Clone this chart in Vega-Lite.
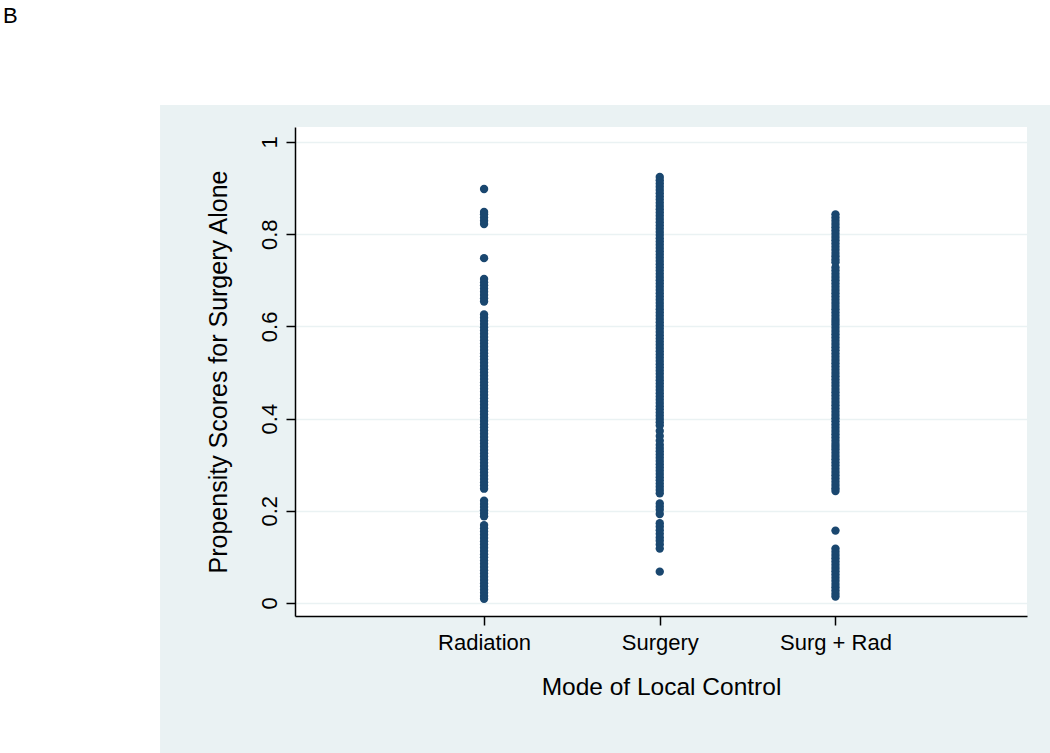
{
  "$schema": "https://vega.github.io/schema/vega-lite/v6.json",
  "width": 732,
  "height": 489,
  "autosize": {"type": "none"},
  "padding": {"left": 295, "top": 127, "right": 23, "bottom": 137},
  "background": "#EAF2F3",
  "view": {"fill": "white", "stroke": null},
  "config": {"font": "Liberation Sans"},
  "data": {"values": [
    {"mode":1,"score":0.898},
    {"mode":1,"score":0.848},{"mode":1,"score":0.843},{"mode":1,"score":0.836},{"mode":1,"score":0.829},{"mode":1,"score":0.822},
    {"mode":1,"score":0.748},
    {"mode":1,"score":0.703},{"mode":1,"score":0.696},{"mode":1,"score":0.689},{"mode":1,"score":0.682},{"mode":1,"score":0.675},{"mode":1,"score":0.668},{"mode":1,"score":0.661},{"mode":1,"score":0.654},
    {"mode":1,"score":0.626},{"mode":1,"score":0.619},{"mode":1,"score":0.612},{"mode":1,"score":0.605},{"mode":1,"score":0.598},{"mode":1,"score":0.591},{"mode":1,"score":0.584},{"mode":1,"score":0.577},{"mode":1,"score":0.570},{"mode":1,"score":0.563},{"mode":1,"score":0.556},{"mode":1,"score":0.549},{"mode":1,"score":0.542},{"mode":1,"score":0.535},{"mode":1,"score":0.528},{"mode":1,"score":0.521},{"mode":1,"score":0.514},{"mode":1,"score":0.507},{"mode":1,"score":0.500},{"mode":1,"score":0.493},{"mode":1,"score":0.486},{"mode":1,"score":0.479},{"mode":1,"score":0.472},{"mode":1,"score":0.465},{"mode":1,"score":0.458},{"mode":1,"score":0.451},{"mode":1,"score":0.444},{"mode":1,"score":0.437},{"mode":1,"score":0.430},{"mode":1,"score":0.423},{"mode":1,"score":0.416},{"mode":1,"score":0.409},{"mode":1,"score":0.402},{"mode":1,"score":0.395},{"mode":1,"score":0.388},{"mode":1,"score":0.381},{"mode":1,"score":0.374},{"mode":1,"score":0.367},{"mode":1,"score":0.360},{"mode":1,"score":0.353},{"mode":1,"score":0.346},{"mode":1,"score":0.339},{"mode":1,"score":0.332},{"mode":1,"score":0.325},{"mode":1,"score":0.318},{"mode":1,"score":0.311},{"mode":1,"score":0.304},{"mode":1,"score":0.297},{"mode":1,"score":0.290},{"mode":1,"score":0.283},{"mode":1,"score":0.276},{"mode":1,"score":0.269},{"mode":1,"score":0.262},{"mode":1,"score":0.255},{"mode":1,"score":0.248},
    {"mode":1,"score":0.222},{"mode":1,"score":0.215},{"mode":1,"score":0.208},{"mode":1,"score":0.201},{"mode":1,"score":0.194},{"mode":1,"score":0.188},
    {"mode":1,"score":0.169},{"mode":1,"score":0.162},{"mode":1,"score":0.155},{"mode":1,"score":0.148},{"mode":1,"score":0.141},{"mode":1,"score":0.134},{"mode":1,"score":0.127},{"mode":1,"score":0.120},{"mode":1,"score":0.113},{"mode":1,"score":0.106},{"mode":1,"score":0.099},{"mode":1,"score":0.092},{"mode":1,"score":0.085},{"mode":1,"score":0.078},{"mode":1,"score":0.071},{"mode":1,"score":0.064},{"mode":1,"score":0.057},{"mode":1,"score":0.050},{"mode":1,"score":0.043},{"mode":1,"score":0.036},{"mode":1,"score":0.029},{"mode":1,"score":0.022},{"mode":1,"score":0.015},{"mode":1,"score":0.009},
    {"mode":2,"score":0.924},{"mode":2,"score":0.917},{"mode":2,"score":0.910},{"mode":2,"score":0.903},{"mode":2,"score":0.896},{"mode":2,"score":0.889},{"mode":2,"score":0.882},{"mode":2,"score":0.875},{"mode":2,"score":0.868},{"mode":2,"score":0.861},{"mode":2,"score":0.854},{"mode":2,"score":0.847},{"mode":2,"score":0.840},{"mode":2,"score":0.833},{"mode":2,"score":0.826},{"mode":2,"score":0.819},{"mode":2,"score":0.812},{"mode":2,"score":0.805},{"mode":2,"score":0.798},{"mode":2,"score":0.791},{"mode":2,"score":0.784},{"mode":2,"score":0.777},{"mode":2,"score":0.770},{"mode":2,"score":0.763},{"mode":2,"score":0.756},{"mode":2,"score":0.749},{"mode":2,"score":0.742},{"mode":2,"score":0.735},{"mode":2,"score":0.728},{"mode":2,"score":0.721},{"mode":2,"score":0.714},{"mode":2,"score":0.707},{"mode":2,"score":0.700},{"mode":2,"score":0.693},{"mode":2,"score":0.686},{"mode":2,"score":0.679},{"mode":2,"score":0.672},{"mode":2,"score":0.665},{"mode":2,"score":0.658},{"mode":2,"score":0.651},{"mode":2,"score":0.644},{"mode":2,"score":0.637},{"mode":2,"score":0.630},{"mode":2,"score":0.623},{"mode":2,"score":0.616},{"mode":2,"score":0.609},{"mode":2,"score":0.602},{"mode":2,"score":0.595},{"mode":2,"score":0.588},{"mode":2,"score":0.581},{"mode":2,"score":0.574},{"mode":2,"score":0.567},{"mode":2,"score":0.560},{"mode":2,"score":0.553},{"mode":2,"score":0.546},{"mode":2,"score":0.539},{"mode":2,"score":0.532},{"mode":2,"score":0.525},{"mode":2,"score":0.518},{"mode":2,"score":0.511},{"mode":2,"score":0.504},{"mode":2,"score":0.497},{"mode":2,"score":0.490},{"mode":2,"score":0.483},{"mode":2,"score":0.476},{"mode":2,"score":0.469},{"mode":2,"score":0.462},{"mode":2,"score":0.455},{"mode":2,"score":0.448},{"mode":2,"score":0.441},{"mode":2,"score":0.434},{"mode":2,"score":0.427},{"mode":2,"score":0.420},{"mode":2,"score":0.413},{"mode":2,"score":0.406},{"mode":2,"score":0.399},{"mode":2,"score":0.392},{"mode":2,"score":0.385},
    {"mode":2,"score":0.373},{"mode":2,"score":0.362},{"mode":2,"score":0.352},
    {"mode":2,"score":0.343},{"mode":2,"score":0.336},{"mode":2,"score":0.329},{"mode":2,"score":0.322},{"mode":2,"score":0.315},{"mode":2,"score":0.308},{"mode":2,"score":0.301},{"mode":2,"score":0.294},{"mode":2,"score":0.287},{"mode":2,"score":0.280},{"mode":2,"score":0.273},{"mode":2,"score":0.266},{"mode":2,"score":0.259},{"mode":2,"score":0.252},{"mode":2,"score":0.245},{"mode":2,"score":0.238},
    {"mode":2,"score":0.216},{"mode":2,"score":0.209},{"mode":2,"score":0.202},{"mode":2,"score":0.193},
    {"mode":2,"score":0.173},{"mode":2,"score":0.166},{"mode":2,"score":0.158},{"mode":2,"score":0.150},{"mode":2,"score":0.142},{"mode":2,"score":0.135},{"mode":2,"score":0.127},{"mode":2,"score":0.118},
    {"mode":2,"score":0.068},
    {"mode":3,"score":0.843},{"mode":3,"score":0.836},{"mode":3,"score":0.829},{"mode":3,"score":0.822},{"mode":3,"score":0.815},{"mode":3,"score":0.808},{"mode":3,"score":0.801},{"mode":3,"score":0.794},{"mode":3,"score":0.787},{"mode":3,"score":0.780},{"mode":3,"score":0.773},{"mode":3,"score":0.766},{"mode":3,"score":0.759},{"mode":3,"score":0.752},{"mode":3,"score":0.745},{"mode":3,"score":0.739},
    {"mode":3,"score":0.728},{"mode":3,"score":0.721},{"mode":3,"score":0.714},{"mode":3,"score":0.707},{"mode":3,"score":0.700},{"mode":3,"score":0.693},{"mode":3,"score":0.686},{"mode":3,"score":0.679},{"mode":3,"score":0.672},{"mode":3,"score":0.665},{"mode":3,"score":0.658},{"mode":3,"score":0.651},{"mode":3,"score":0.644},{"mode":3,"score":0.637},{"mode":3,"score":0.630},{"mode":3,"score":0.623},{"mode":3,"score":0.616},{"mode":3,"score":0.610},
    {"mode":3,"score":0.604},{"mode":3,"score":0.597},{"mode":3,"score":0.590},{"mode":3,"score":0.583},{"mode":3,"score":0.576},{"mode":3,"score":0.569},{"mode":3,"score":0.562},{"mode":3,"score":0.555},{"mode":3,"score":0.548},{"mode":3,"score":0.541},{"mode":3,"score":0.534},{"mode":3,"score":0.527},{"mode":3,"score":0.520},{"mode":3,"score":0.513},{"mode":3,"score":0.506},{"mode":3,"score":0.499},{"mode":3,"score":0.492},{"mode":3,"score":0.485},{"mode":3,"score":0.478},{"mode":3,"score":0.471},{"mode":3,"score":0.464},{"mode":3,"score":0.457},{"mode":3,"score":0.450},{"mode":3,"score":0.443},{"mode":3,"score":0.436},
    {"mode":3,"score":0.429},{"mode":3,"score":0.422},{"mode":3,"score":0.415},{"mode":3,"score":0.408},{"mode":3,"score":0.401},{"mode":3,"score":0.394},{"mode":3,"score":0.387},{"mode":3,"score":0.380},{"mode":3,"score":0.373},{"mode":3,"score":0.366},{"mode":3,"score":0.359},{"mode":3,"score":0.352},{"mode":3,"score":0.345},{"mode":3,"score":0.339},
    {"mode":3,"score":0.333},{"mode":3,"score":0.326},{"mode":3,"score":0.319},{"mode":3,"score":0.312},{"mode":3,"score":0.305},{"mode":3,"score":0.298},{"mode":3,"score":0.291},{"mode":3,"score":0.284},{"mode":3,"score":0.277},{"mode":3,"score":0.270},{"mode":3,"score":0.263},{"mode":3,"score":0.256},{"mode":3,"score":0.249},{"mode":3,"score":0.243},
    {"mode":3,"score":0.157},
    {"mode":3,"score":0.118},{"mode":3,"score":0.111},{"mode":3,"score":0.104},{"mode":3,"score":0.097},{"mode":3,"score":0.090},{"mode":3,"score":0.083},{"mode":3,"score":0.076},{"mode":3,"score":0.069},{"mode":3,"score":0.062},{"mode":3,"score":0.055},{"mode":3,"score":0.048},{"mode":3,"score":0.041},{"mode":3,"score":0.034},{"mode":3,"score":0.027},{"mode":3,"score":0.020},{"mode":3,"score":0.014}
  ]},
  "layer": [
    {
      "data": {"values": [{}]},
      "mark": {"type": "rect", "color": "white", "clip": false},
      "encoding": {
        "x": {"datum": -1.76, "type": "quantitative", "scale": {"domain": [-0.076, 4.09]}},
        "x2": {"datum": 4.23},
        "y": {"datum": 1.08, "type": "quantitative", "scale": {"domain": [-0.0282, 1.0325]}},
        "y2": {"datum": 1.31}
      }
    },
    {
      "data": {"values": [{}]},
      "mark": {"type": "rect", "color": "white", "clip": false},
      "encoding": {
        "x": {"datum": -1.76, "type": "quantitative", "scale": {"domain": [-0.076, 4.09]}},
        "x2": {"datum": -0.844},
        "y": {"datum": -0.33, "type": "quantitative", "scale": {"domain": [-0.0282, 1.0325]}},
        "y2": {"datum": 1.31}
      }
    },
    {
      "data": {"values": [{"panel": "B"}]},
      "mark": {"type": "text", "align": "left", "baseline": "alphabetic", "font": "Liberation Sans", "fontSize": 22, "color": "black", "clip": false},
      "encoding": {
        "text": {"field": "panel"},
        "x": {"datum": -1.738, "type": "quantitative", "scale": {"domain": [-0.076, 4.09]}},
        "y": {"datum": 1.258, "type": "quantitative", "scale": {"domain": [-0.0282, 1.0325]}}
      }
    },
    {
      "mark": {"type": "circle", "color": "#1A476F", "opacity": 1, "size": 70},
      "encoding": {
        "x": {
          "field": "mode", "type": "quantitative",
          "scale": {"domain": [-0.076, 4.09], "nice": false, "zero": false},
          "axis": {
            "values": [1, 2, 3],
            "labelExpr": "datum.value == 1 ? 'Radiation' : datum.value == 2 ? 'Surgery' : 'Surg + Rad'",
            "grid": false,
            "domainColor": "black", "domainWidth": 1.5,
            "tickColor": "black", "tickWidth": 1.5, "tickSize": 9,
            "labelFont": "Liberation Sans", "labelFontSize": 22, "labelColor": "black", "labelPadding": 7,
            "title": "Mode of Local Control",
            "titleFont": "Liberation Sans", "titleFontSize": 24.5, "titleFontWeight": "normal", "titleColor": "black", "titlePadding": 22
          }
        },
        "y": {
          "field": "score", "type": "quantitative",
          "scale": {"domain": [-0.0282, 1.0325], "nice": false, "zero": false},
          "axis": {
            "values": [0, 0.2, 0.4, 0.6, 0.8, 1],
            "format": "~g",
            "grid": true, "gridColor": "#EAF2F3", "gridWidth": 1.5,
            "domainColor": "black", "domainWidth": 1.5,
            "tickColor": "black", "tickWidth": 1.5, "tickSize": 9,
            "labelFont": "Liberation Sans", "labelFontSize": 22, "labelColor": "black",
            "labelAngle": -90, "labelAlign": "center", "labelBaseline": "alphabetic", "labelPadding": 10,
            "title": "Propensity Scores for Surgery Alone",
            "titleFont": "Liberation Sans", "titleFontSize": 25, "titleFontWeight": "normal", "titleColor": "black", "titlePadding": 27
          }
        }
      }
    }
  ]
}
